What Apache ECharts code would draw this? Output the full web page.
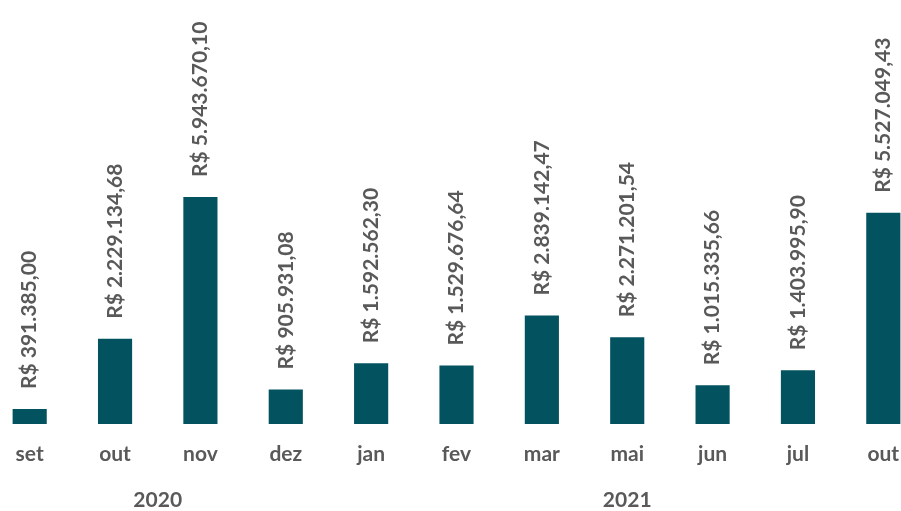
<!DOCTYPE html>
<html>
<head>
<meta charset="utf-8">
<script src="https://cdn.jsdelivr.net/npm/echarts@6/dist/echarts.min.js"></script>
<style>html,body{margin:0;padding:0;background:#fff;overflow:hidden;width:901px;height:511px;position:relative}#c{position:absolute;left:-16px;top:0;width:945px;height:511px}</style>
</head>
<body>
<div id="c"></div>
<script>
const months = ['set','out','nov','dez','jan','fev','mar','mai','jun','jul','out'];
const values = [391385.00, 2229134.68, 5943670.10, 905931.08, 1592562.30, 1529676.64, 2839142.47, 2271201.54, 1015335.66, 1403995.90, 5527049.43];
const years = [{name:'2020', from:0, to:3}, {name:'2021', from:4, to:10}];

function brl(v){
  const parts = v.toFixed(2).split('.');
  return 'R$ ' + parts[0].replace(/\B(?=(\d{3})+(?!\d))/g, '.') + ',' + parts[1];
}
const yearAt = {};
years.forEach(y => { yearAt[((y.from + y.to) / 2).toFixed(1)] = y.name; });

const FONT = 'Lato';
const GRAY = '#595959';
const chart = echarts.init(document.getElementById('c'), null, {renderer:'canvas'});
chart.setOption({
  animation: false,
  backgroundColor: '#ffffff',
  grid: {left: 0, right: 0, top: 42, bottom: 87, containLabel: false},
  xAxis: [{
    type: 'category', data: months,
    axisLine: {show: false}, axisTick: {show: false},
    axisLabel: {interval: 0, margin: 20, color: GRAY, fontFamily: FONT, fontWeight: 'bold', fontSize: 21}
  }, {
    type: 'value', min: -0.5, max: 10.5, interval: 0.5, position: 'bottom',
    axisLine: {show: false}, axisTick: {show: false}, splitLine: {show: false},
    axisLabel: {margin: 66, color: GRAY, fontFamily: FONT, fontWeight: 'bold', fontSize: 21,
      showMinLabel: true, showMaxLabel: true,
      formatter: v => yearAt[Number(v).toFixed(1)] || ''}
  }],
  yAxis: {type: 'value', min: 0, max: 10000000, show: false, splitLine: {show: false}},
  series: [{
    type: 'bar', data: values, barWidth: '40%', xAxisIndex: 0,
    itemStyle: {color: '#02535F'},
    label: {show: true, position: 'top', rotate: 90, align: 'left', verticalAlign: 'middle', distance: 20,
      color: GRAY, fontFamily: FONT, fontWeight: 'bold', fontSize: 21,
      formatter: p => brl(p.value)}
  }]
});
</script>
</body>
</html>
